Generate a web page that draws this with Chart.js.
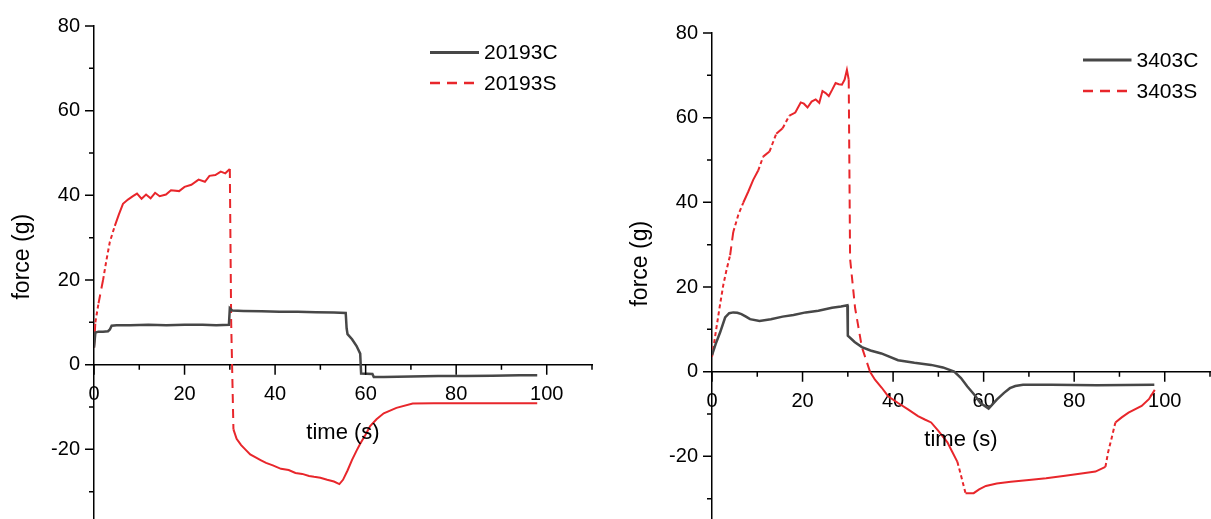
<!DOCTYPE html>
<html><head><meta charset="utf-8">
<script src="https://cdn.jsdelivr.net/npm/chart.js@4.4.1/dist/chart.umd.min.js"></script>
<style>
html,body{margin:0;padding:0;background:#fff;overflow:hidden;width:1211px;height:519px;}
.box{position:absolute;width:610px;height:560px;}
#b1{left:0;top:0;}
#b2{left:618px;top:7px;}
</style></head><body>
<div class="box" id="b1"><canvas id="c1"></canvas></div>
<div class="box" id="b2"><canvas id="c2"></canvas></div>
<script>
// ---- data ----
const xTickValues = [0,10,20,30,40,50,60,70,80,90,100,110];
const yTickValues = [-40,-30,-20,-10,0,10,20,30,40,50,60,70,80];

const seriesNames1 = ['20193C','20193S'];
const tC1 = [0,0.3,1,2,3.1,3.5,3.9,5,8,12,16,20,24,27,29.8,30.0,30.5,33,37,41,45,49,53,55.6,55.8,56.0,57.0,58.0,58.8,59.0,61.5,61.8,64,70,76,82,88,94,97.9];
const vC1 = [4.0,7.6,7.8,7.8,7.9,8.3,9.2,9.3,9.3,9.4,9.3,9.4,9.4,9.3,9.4,13.3,12.8,12.7,12.6,12.5,12.5,12.4,12.3,12.2,8.6,7.2,6.0,4.4,2.6,-2.1,-2.2,-2.9,-2.9,-2.8,-2.7,-2.7,-2.6,-2.5,-2.5];
const tS1 = [0,0.3,1,2,2.8,3.5,4.6,5.5,6.4,7.5,8.6,9.5,10.5,11.5,12.5,13.5,14.5,15.9,17,18.8,20,21.5,23.1,24.5,25.5,26.8,28,29,30.0,30.3,30.8,31.5,32.5,33.3,34.5,35.5,36.9,38,39.5,41.3,43,44.5,46,47.5,48.6,50,51.5,53,54.2,55,56,57,58,58.8,60,61,62.4,64,66.8,70.4,75,80,85,90,97.9];
const vS1 = [4.0,10,14.5,20,25,29,32.8,35.5,38,39,39.8,40.4,39.2,40.2,39.3,40.6,39.8,40.2,41.2,41,42,42.5,43.7,43.2,44.6,44.8,45.6,45.2,46.2,10,-15.3,-17.5,-19,-19.9,-21.2,-21.8,-22.6,-23.2,-23.8,-24.6,-24.9,-25.6,-25.8,-26.3,-26.5,-26.7,-27.2,-27.6,-28.2,-27.2,-25,-22.5,-20.3,-18.7,-16.5,-14.5,-12.9,-11.5,-10.2,-9.2,-9.1,-9.1,-9.1,-9.1,-9.1];

const seriesNames2 = ['3403C','3403S'];
const tC2 = [0,0.8,1.8,2.9,3.8,4.7,5.6,6.5,7.5,8.4,10.5,13,15.6,18,20.7,23.5,26.5,28.5,29.9,30.0,31.5,33.1,35,37.4,41.1,44.7,48.4,51,53.5,55,56.4,58,59.3,61.1,62.9,64.5,65.8,67,68.7,75,85,97.7];
const vC2 = [3.9,6.5,9.3,12.8,13.8,14,13.9,13.6,13,12.4,12,12.4,13,13.4,14,14.4,15.1,15.4,15.7,8.5,7,5.8,5,4.3,2.7,2.1,1.6,1,0,-1.5,-3.5,-5.5,-7.4,-8.7,-6.6,-5,-3.9,-3.4,-3.1,-3.1,-3.2,-3.1];
const tS2 = [0,0.5,1.1,1.8,2.5,3.2,4,4.7,5.8,6.9,8,9.1,10.2,11.3,12.7,14.2,15.6,17.1,18.4,19.6,20.3,21.1,22,22.9,23.7,24.4,25.1,25.8,26.5,27.3,28,28.7,29.3,29.8,30.2,30.5,31.6,33.1,34.9,36,37.5,38.9,41.1,43.3,45.5,47,48.4,50,52,53,54.2,55,56,57.8,59,60.5,62.9,66,70,73.8,78,82,84.7,86.9,87.5,88.2,89.1,90.5,92,94.9,96.5,97.8];
const vS2 = [3.5,7,11.2,16,20.5,24,27.5,33,37,39.9,42.5,45.3,47.5,50.8,52,56.2,57.5,60.5,61.2,63.6,63.3,62.4,63.8,64.3,63.5,66.3,65.8,65.1,66.5,68.2,67.9,67.8,69,71.3,69,26.7,15.1,5.8,0,-1.9,-3.8,-5.8,-7.4,-8.9,-10.5,-11.3,-12,-14,-16.7,-18.8,-21.3,-24.5,-28.7,-28.7,-27.8,-27,-26.4,-26,-25.6,-25.2,-24.6,-24,-23.6,-22.5,-19,-16,-12,-10.8,-9.7,-8.1,-6.5,-4.3];

// ---- styling / rendering ----
const FONT = '"Liberation Sans", Arial, sans-serif';
const GRAY = '#474747';
const RED = '#e8262b';

const pts = (t, v) => t.map((x, i) => ({x, y: v[i]}));

// dashes show only on steep (long vertical) segments, like the original plot
function dashBySegment(ctx) {
  const dy = Math.abs(ctx.p1.y - ctx.p0.y);
  if (dy > 22) return [9, 6];
  if (dy > 12) return [4, 3];
  return [];
}

const deco = {
  id: 'deco',
  afterDraw(chart, args, o) {
    const {ctx, chartArea: ca, scales: {x, y}} = chart;
    const y0 = y.getPixelForValue(0);
    ctx.save();
    ctx.strokeStyle = '#000';
    ctx.lineWidth = 1.5;
    ctx.beginPath();
    x.ticks.forEach(t => {
      const p = x.getPixelForValue(t.value);
      const l = t.value % 20 === 0 ? 10 : 5;
      ctx.moveTo(p, y0); ctx.lineTo(p, y0 + l);
    });
    y.ticks.forEach(t => {
      const p = y.getPixelForValue(t.value);
      const l = t.value % 20 === 0 ? 9 : 5;
      ctx.moveTo(ca.left, p); ctx.lineTo(ca.left - l, p);
    });
    ctx.stroke();

    ctx.fillStyle = '#000';
    ctx.font = '22px ' + FONT;
    ctx.textAlign = 'center';
    ctx.textBaseline = 'middle';
    ctx.fillText(o.xTitle, (x.left + x.right) / 2, y0 + o.xTitleGap);
    ctx.save();
    ctx.translate(o.yTitleX, y.getPixelForValue(o.yTitleAt));
    ctx.rotate(-Math.PI / 2);
    ctx.font = '23px ' + FONT;
    ctx.fillText(o.yTitle, 0, 0);
    ctx.restore();

    ctx.font = '21px ' + FONT;
    ctx.textAlign = 'left';
    chart.data.datasets.forEach((ds, i) => {
      const ly = o.legY + i * o.legStep;
      ctx.beginPath();
      ctx.strokeStyle = ds.borderColor;
      ctx.lineWidth = ds.legendWidth;
      ctx.setLineDash(ds.legendDash);
      ctx.moveTo(o.legX, ly);
      ctx.lineTo(o.legX + o.legLen, ly);
      ctx.stroke();
      ctx.setLineDash([]);
      ctx.fillStyle = '#000';
      ctx.fillText(ds.label, o.legX + o.legLen + 5, ly + 1);
    });
    ctx.restore();
  }
};

function makeChart(id, names, tC, vC, tS, vS, decoOpts) {
  return new Chart(document.getElementById(id), {
    type: 'line',
    data: {
      datasets: [
        {label: names[0], data: pts(tC, vC), borderColor: GRAY, borderWidth: 2.5,
         pointRadius: 0, tension: 0, fill: false, legendDash: [], legendWidth: 3},
        {label: names[1], data: pts(tS, vS), borderColor: RED, borderWidth: 2,
         pointRadius: 0, tension: 0, fill: false, legendDash: [10, 7], legendWidth: 2.5,
         segment: {borderDash: dashBySegment}}
      ]
    },
    options: {
      responsive: true,
      maintainAspectRatio: false,
      animation: false,
      devicePixelRatio: 1,
      layout: {padding: {left: 0, top: 24, right: 10, bottom: 20}},
      plugins: {legend: {display: false}, tooltip: {enabled: false}, deco: decoOpts},
      scales: {
        x: {
          type: 'linear', min: 0, max: 110,
          position: {y: 0},
          afterBuildTicks: s => { s.ticks = xTickValues.map(v => ({value: v})); },
          ticks: {
            autoSkip: false, maxRotation: 0, padding: 18, color: '#000',
            font: {family: FONT, size: 20},
            callback: v => (v % 20 === 0 && v <= 100) ? String(v) : ''
          },
          grid: {display: true, drawOnChartArea: false, drawTicks: false},
          border: {display: true, color: '#000', width: 1.5}
        },
        y: {
          type: 'linear', min: -40, max: 80,
          position: 'left',
          afterBuildTicks: s => { s.ticks = yTickValues.map(v => ({value: v})); },
          afterFit: s => { s.width = 94; },
          ticks: {
            autoSkip: false, padding: 14, color: '#000',
            font: {family: FONT, size: 20},
            callback: v => (v % 20 === 0 && v > -40) ? String(v) : ''
          },
          grid: {display: true, drawOnChartArea: false, drawTicks: false},
          border: {display: true, color: '#000', width: 1.5}
        }
      }
    },
    plugins: [deco]
  });
}

makeChart('c1', seriesNames1, tC1, vC1, tS1, vS1,
  {xTitle: 'time (s)', xTitleGap: 68, yTitle: 'force (g)', yTitleX: 22.5, yTitleAt: 25.5,
   legX: 430, legLen: 49, legY: 52.5, legStep: 30.5});
makeChart('c2', seriesNames2, tC2, vC2, tS2, vS2,
  {xTitle: 'time (s)', xTitleGap: 68, yTitle: 'force (g)', yTitleX: 23, yTitleAt: 25.5,
   legX: 465, legLen: 48.5, legY: 53, legStep: 31});
</script>
</body></html>
